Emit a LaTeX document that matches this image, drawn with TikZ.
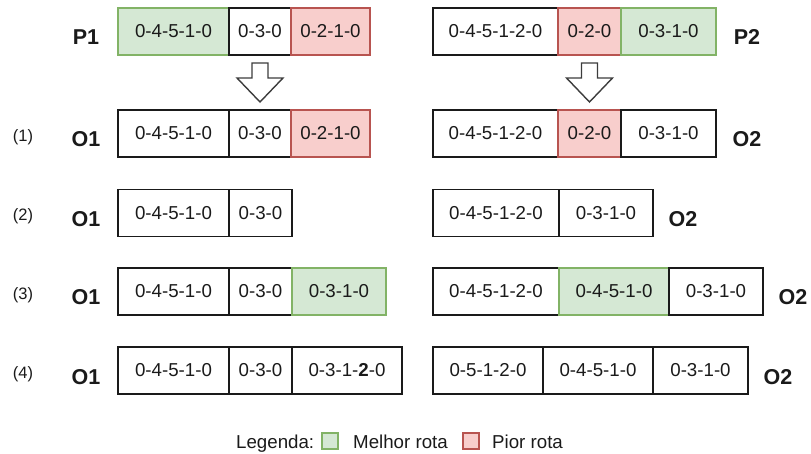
\documentclass[tikz,border=0pt]{standalone}
\usepackage{fontspec}
\setmainfont{Liberation Sans}
\usetikzlibrary{positioning,calc}
\definecolor{bestfill}{HTML}{D5E8D4}
\definecolor{bestdraw}{HTML}{82B366}
\definecolor{worstfill}{HTML}{F8CECC}
\definecolor{worstdraw}{HTML}{B85450}
\definecolor{ink}{HTML}{1A1A1A}
\newcommand\cellfont{\fontsize{18.7}{22}\selectfont}
\newcommand\lblfont{\bfseries\fontsize{21.5}{24}\selectfont}
\newcommand\stepfont{\fontsize{16.5}{19}\selectfont}
\tikzset{
  cell/.style={draw=ink, line width=1.5pt, minimum height=47pt, inner sep=0pt, outer sep=0pt, font=\cellfont, text=ink},
  best/.style={cell, fill=bestfill, draw=bestdraw},
  worst/.style={cell, fill=worstfill, draw=worstdraw},
  lbl/.style={font=\lblfont, anchor=base, text=ink, inner sep=0pt},
  stepno/.style={font=\stepfont, text=ink, inner sep=0pt},
  blockarrow/.style={draw=ink!85, line width=1.4pt, fill=white, line join=miter},
  legtext/.style={font=\cellfont, text=ink, anchor=base west, inner sep=0pt},
  legbox/.style={minimum width=16pt, minimum height=16pt, inner sep=0pt, line width=1.2pt}
}
\begin{document}
\begin{tikzpicture}[x=1pt,y=-1pt]
\useasboundingbox (0,0) rectangle (811,454);
% ---- P1 / P2
\node[best, minimum width=111, anchor=west] (p1a) at (118,31.5) {0-4-5-1-0};
\node[cell, minimum width=62, right=0pt of p1a] (p1b) {0-3-0};
\node[worst, minimum width=79, right=0pt of p1b] (p1c) {0-2-1-0};
\node[cell, minimum width=125, anchor=west] (p2a) at (433,31.5) {0-4-5-1-2-0};
\node[worst, minimum width=63, right=0pt of p2a] (p2b) {0-2-0};
\node[best, minimum width=95, right=0pt of p2b] (p2c) {0-3-1-0};
\node[lbl] (lp1) at (86,45) {P1};
\node[lbl] (lp2) at (747,45) {P2};
% ---- row 1
\node[cell, minimum width=111, anchor=west] (r1a) at (118,133.5) {0-4-5-1-0};
\node[cell, minimum width=62, right=0pt of r1a] (r1b) {0-3-0};
\node[worst, minimum width=79, right=0pt of r1b] (r1c) {0-2-1-0};
\node[cell, minimum width=125, anchor=west] (s1a) at (433,133.5) {0-4-5-1-2-0};
\node[worst, minimum width=63, right=0pt of s1a] (s1b) {0-2-0};
\node[cell, minimum width=95, right=0pt of s1b] (s1c) {0-3-1-0};
\node[stepno] (n1) at (23,137) {(1)};
\node[lbl] (lo11) at (86,147) {O1};
\node[lbl] (lo21) at (747,147) {O2};
% ---- row 2
\node[cell, minimum width=111, anchor=west] (r2a) at (118,213) {0-4-5-1-0};
\node[cell, minimum width=63, right=0pt of r2a] (r2b) {0-3-0};
\node[cell, minimum width=126, anchor=west] (s2a) at (433,213) {0-4-5-1-2-0};
\node[cell, minimum width=94, right=0pt of s2a] (s2b) {0-3-1-0};
\node[stepno] (n2) at (23,216.5) {(2)};
\node[lbl] (lo12) at (86,226.5) {O1};
\node[lbl] (lo22) at (683,226.5) {O2};
% ---- row 3
\node[cell, minimum width=111, anchor=west] (r3a) at (118,291.5) {0-4-5-1-0};
\node[cell, minimum width=63, right=0pt of r3a] (r3b) {0-3-0};
\node[best, minimum width=94, right=0pt of r3b] (r3c) {0-3-1-0};
\node[cell, minimum width=126, anchor=west] (s3a) at (433,291.5) {0-4-5-1-2-0};
\node[best, minimum width=110, right=0pt of s3a] (s3b) {0-4-5-1-0};
\node[cell, minimum width=94, right=0pt of s3b] (s3c) {0-3-1-0};
\node[stepno] (n3) at (23,295) {(3)};
\node[lbl] (lo13) at (86,305) {O1};
\node[lbl] (lo23) at (793,305) {O2};
% ---- row 4
\node[cell, minimum width=111, anchor=west] (r4a) at (118,370.5) {0-4-5-1-0};
\node[cell, minimum width=63, right=0pt of r4a] (r4b) {0-3-0};
\node[cell, minimum width=110, right=0pt of r4b] (r4c) {0-3-1-\textbf{2}-0};
\node[cell, minimum width=110, anchor=west] (s4a) at (433,370.5) {0-5-1-2-0};
\node[cell, minimum width=110, right=0pt of s4a] (s4b) {0-4-5-1-0};
\node[cell, minimum width=95, right=0pt of s4b] (s4c) {0-3-1-0};
\node[stepno] (n4) at (23,374) {(4)};
\node[lbl] (lo14) at (86,384) {O1};
\node[lbl] (lo24) at (778,384) {O2};
% ---- block arrows
\path ($(p1b.south)+(0,8)$) coordinate (t1) ($(r1b.north)+(0,-8)$) coordinate (b1);
\draw[blockarrow] (t1) ++(-8,0) -- ++(16,0) -- ++(0,15) -- ++(15,0) -- (b1) -- ++(-23,-24) -- ++(15,0) -- cycle;
\path ($(p2b.south)+(0,8)$) coordinate (t2) ($(s1b.north)+(0,-8)$) coordinate (b2);
\draw[blockarrow] (t2) ++(-8,0) -- ++(16,0) -- ++(0,15) -- ++(15,0) -- (b2) -- ++(-23,-24) -- ++(15,0) -- cycle;
% ---- legend
\node[legtext] (leg) at (236,448) {Legenda:};
\node[legbox, fill=bestfill, draw=bestdraw] (legg) at (330,441) {};
\node[legtext] (legm) at (353,448) {Melhor rota};
\node[legbox, fill=worstfill, draw=worstdraw] (legr) at (471,441) {};
\node[legtext] (legp) at (492,448) {Pior rota};
\end{tikzpicture}
\end{document}
